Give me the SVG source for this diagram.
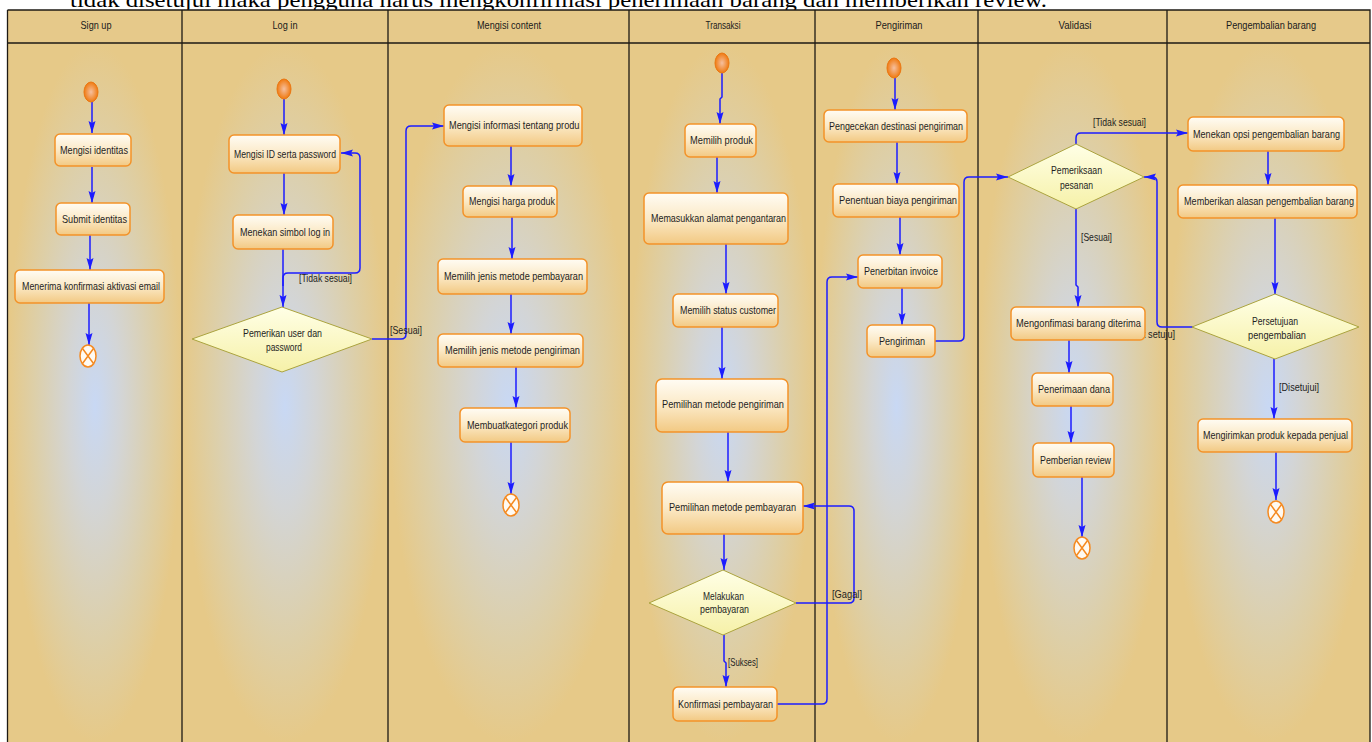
<svg xmlns="http://www.w3.org/2000/svg" width="1372" height="742" viewBox="0 0 1372 742">
<defs>
<radialGradient id="lane" cx="0.5" cy="0.5" r="0.5" fx="0.5" fy="0.52">
<stop offset="0" stop-color="#c8d8f4"/>
<stop offset="0.3" stop-color="#d3d5d6"/>
<stop offset="0.7" stop-color="#ddcfa8"/>
<stop offset="1" stop-color="#e6c988"/>
</radialGradient>
<linearGradient id="act" x1="0" y1="0" x2="0" y2="1">
<stop offset="0" stop-color="#fffcf4"/>
<stop offset="0.5" stop-color="#fbe9c6"/>
<stop offset="1" stop-color="#f2c983"/>
</linearGradient>
<linearGradient id="dec" x1="0" y1="0" x2="0" y2="1">
<stop offset="0" stop-color="#ffffe6"/>
<stop offset="1" stop-color="#f6f1a8"/>
</linearGradient>
<radialGradient id="start" cx="0.5" cy="0.5" r="0.5">
<stop offset="0" stop-color="#f5c0a0"/>
<stop offset="1" stop-color="#f07a10"/>
</radialGradient>
<marker id="arr" markerUnits="userSpaceOnUse" viewBox="0 0 12 8" refX="12" refY="4" markerWidth="12" markerHeight="8" orient="auto">
<path d="M0,0.5 L12,4 L0,7.5 L2,4 z" fill="#1c1cff"/>
</marker>
<clipPath id="clipInfo"><rect x="444" y="105" width="136" height="41"/></clipPath>
<style>
.lane{fill:url(#lane);}
.div{stroke:#1e1a14;stroke-width:1.3;fill:none;}
.hdr{font-family:"Liberation Sans",Arial,sans-serif;font-size:11px;fill:#1a1a1a;text-anchor:middle;}
.act{fill:url(#act);stroke:#f39228;stroke-width:1.5;}
.dec{fill:url(#dec);stroke:#aba33e;stroke-width:1;}
.t{font-family:"Liberation Sans",Arial,sans-serif;font-size:11px;fill:#1e1e1e;}
.lbl{font-family:"Liberation Sans",Arial,sans-serif;font-size:11px;fill:#1e1e1e;}
.st{fill:url(#start);stroke:#ea7612;stroke-width:1;}
.end{fill:#fffaf2;stroke:#f58a20;stroke-width:1.5;}
.x{stroke:#f58a20;stroke-width:1.5;}
.c{fill:none;stroke:#1c1cff;stroke-width:1.5;marker-end:url(#arr);}
.cn{fill:none;stroke:#1c1cff;stroke-width:1.5;}
</style>
</defs>
<rect x="0" y="0" width="1372" height="742" fill="#ffffff"/>
<text x="70" y="7" font-family="Liberation Serif,Times New Roman,serif" font-size="22" fill="#000" textLength="977" lengthAdjust="spacingAndGlyphs">tidak disetujui maka pengguna harus mengkonfirmasi penerimaan barang dan memberikan review.</text>
<g id="lanes">
<rect class="lane" x="8" y="43" width="174" height="699"/>
<rect class="lane" x="182" y="43" width="206" height="699"/>
<rect class="lane" x="388" y="43" width="241" height="699"/>
<rect class="lane" x="629" y="43" width="186" height="699"/>
<rect class="lane" x="815" y="43" width="163" height="699"/>
<rect class="lane" x="978" y="43" width="189" height="699"/>
<rect class="lane" x="1167" y="43" width="203" height="699"/>
<rect x="8" y="10" width="1362" height="33" fill="#e6c98a"/>
<path class="div" d="M7.5,10 H1370 V742 M7.5,10 V742 M8,43 H1370 M182,10 V742 M388,10 V742 M629,10 V742 M815,10 V742 M978,10 V742 M1167,10 V742"/>
<text class="hdr" x="96" y="29" textLength="31" lengthAdjust="spacingAndGlyphs">Sign up</text>
<text class="hdr" x="285" y="29" textLength="25" lengthAdjust="spacingAndGlyphs">Log in</text>
<text class="hdr" x="509" y="29" textLength="64" lengthAdjust="spacingAndGlyphs">Mengisi content</text>
<text class="hdr" x="723" y="29" textLength="35" lengthAdjust="spacingAndGlyphs">Transaksi</text>
<text class="hdr" x="899" y="29" textLength="47" lengthAdjust="spacingAndGlyphs">Pengiriman</text>
<text class="hdr" x="1075" y="29" textLength="33" lengthAdjust="spacingAndGlyphs">Validasi</text>
<text class="hdr" x="1271" y="29" textLength="90" lengthAdjust="spacingAndGlyphs">Pengembalian barang</text>
</g>
<g id="connectors">
<path class="c" d="M92,102 V133"/>
<path class="c" d="M92,167 V203"/>
<path class="c" d="M90,235 V270"/>
<path class="c" d="M89,303 V345"/>
<path class="c" d="M284,99 V135"/>
<path class="c" d="M284,173 V215"/>
<path class="c" d="M283,249 V307"/>
<path class="c" d="M283,286 V278 Q283,273 288,273 H355 Q360,273 360,268 V158 Q360,153 355,153 H341"/>
<path class="c" d="M372,339 H401 Q406,339 406,334 V131 Q406,126 411,126 H444"/>
<path class="c" d="M511,146 V186"/>
<path class="c" d="M512,217 V259"/>
<path class="c" d="M511,294 V334"/>
<path class="c" d="M516,367 V408"/>
<path class="c" d="M511,442 V494"/>
<path class="c" d="M722,73 V97 L720,99 V124"/>
<path class="c" d="M717,157 V193"/>
<path class="c" d="M726,244 V294"/>
<path class="c" d="M722,327 V379"/>
<path class="c" d="M728,432 V482"/>
<path class="c" d="M724,534 V570"/>
<path class="c" d="M724,635 V661 L726,663 V687"/>
<path class="c" d="M796,603 H849 Q854,603 854,598 V511 Q854,506 849,506 H803"/>
<path class="c" d="M777,704 H822 Q827,704 827,699 V282 Q827,277 832,277 H858"/>
<path class="c" d="M895,78 V110"/>
<path class="c" d="M897,142 V184"/>
<path class="c" d="M900,217 V255"/>
<path class="c" d="M902,288 V325"/>
<path class="c" d="M935,341 H959 Q964,341 964,336 V182 Q964,177 969,177 H1008"/>
<path class="c" d="M1076,144 V138 Q1076,133 1081,133 H1188"/>
<path class="c" d="M1076,209 V285 L1078,287 V307"/>
<path class="c" d="M1069,340 V373"/>
<path class="c" d="M1071,406 V443"/>
<path class="c" d="M1082,477 V537"/>
<path class="c" d="M1193,327 H1162 Q1157,327 1157,322 V182 Q1157,177 1152,177 H1144"/>
<path class="c" d="M1268,151 V185"/>
<path class="c" d="M1275,218 V294"/>
<path class="c" d="M1274,359 V419"/>
<path class="c" d="M1276,452 V500"/>
<text class="lbl" x="299" y="282" textLength="53" lengthAdjust="spacingAndGlyphs">[Tidak sesuai]</text>
<text class="lbl" x="390" y="334" textLength="32" lengthAdjust="spacingAndGlyphs">[Sesuai]</text>
<text class="lbl" x="832" y="598" textLength="30" lengthAdjust="spacingAndGlyphs">[Gagal]</text>
<text class="lbl" x="728" y="666" textLength="30" lengthAdjust="spacingAndGlyphs">[Sukses]</text>
<text class="lbl" x="1093" y="126" textLength="53" lengthAdjust="spacingAndGlyphs">[Tidak sesuai]</text>
<text class="lbl" x="1081" y="241" textLength="31" lengthAdjust="spacingAndGlyphs">[Sesuai]</text>
<text class="lbl" x="1121" y="338" textLength="54" lengthAdjust="spacingAndGlyphs">[Tidak setuju]</text>
<text class="lbl" x="1279" y="391" textLength="40" lengthAdjust="spacingAndGlyphs">[Disetujui]</text>
</g>
<g id="signup-start"><ellipse class="st" cx="91" cy="92" rx="7" ry="10"/></g>
<g id="mengisi-identitas"><rect class="act" x="55" y="134" width="76" height="32" rx="5"/><text class="t" x="60" y="154" textLength="68" lengthAdjust="spacingAndGlyphs">Mengisi identitas</text></g>
<g id="submit-identitas"><rect class="act" x="56" y="203" width="74" height="32" rx="5"/><text class="t" x="62" y="223" textLength="65" lengthAdjust="spacingAndGlyphs">Submit identitas</text></g>
<g id="menerima-konfirmasi"><rect class="act" x="15" y="270" width="149" height="33" rx="5"/><text class="t" x="22" y="290" textLength="138" lengthAdjust="spacingAndGlyphs">Menerima konfirmasi aktivasi email</text></g>
<g id="signup-end"><ellipse class="end" cx="88" cy="356" rx="8" ry="11"/><path class="x" d="M82.5,348.5 L93.5,363.5 M93.5,348.5 L82.5,363.5"/></g>
<g id="login-start"><ellipse class="st" cx="284" cy="89" rx="7" ry="10"/></g>
<g id="mengisi-id"><rect class="act" x="229" y="135" width="111" height="38" rx="5"/><text class="t" x="234" y="158" textLength="102" lengthAdjust="spacingAndGlyphs">Mengisi ID serta password</text></g>
<g id="menekan-login"><rect class="act" x="233" y="215" width="100" height="34" rx="5"/><text class="t" x="240" y="236" textLength="90" lengthAdjust="spacingAndGlyphs">Menekan simbol log in</text></g>
<g id="pemerikan-user"><polygon class="dec" points="192,339 282,307 372,339 282,372"/><text class="t" x="243" y="337" textLength="79" lengthAdjust="spacingAndGlyphs">Pemerikan user dan</text><text class="t" x="266" y="351" textLength="36" lengthAdjust="spacingAndGlyphs">password</text></g>
<g id="mengisi-informasi"><rect class="act" x="444" y="105" width="138" height="41" rx="5"/><text class="t" x="449" y="129" textLength="135" lengthAdjust="spacingAndGlyphs" clip-path="url(#clipInfo)">Mengisi informasi tentang produk</text></g>
<g id="mengisi-harga"><rect class="act" x="463" y="186" width="94" height="31" rx="5"/><text class="t" x="469" y="205" textLength="86" lengthAdjust="spacingAndGlyphs">Mengisi harga produk</text></g>
<g id="memilih-pembayaran"><rect class="act" x="438" y="259" width="149" height="35" rx="5"/><text class="t" x="444" y="280" textLength="139" lengthAdjust="spacingAndGlyphs">Memilih jenis metode pembayaran</text></g>
<g id="memilih-pengiriman"><rect class="act" x="438" y="334" width="145" height="33" rx="5"/><text class="t" x="445" y="354" textLength="135" lengthAdjust="spacingAndGlyphs">Memilih jenis metode pengiriman</text></g>
<g id="membuat-kategori"><rect class="act" x="460" y="408" width="110" height="34" rx="5"/><text class="t" x="467" y="429" textLength="101" lengthAdjust="spacingAndGlyphs">Membuatkategori produk</text></g>
<g id="content-end"><ellipse class="end" cx="511" cy="505" rx="8" ry="11"/><path class="x" d="M505.5,497.5 L516.5,512.5 M516.5,497.5 L505.5,512.5"/></g>
<g id="transaksi-start"><ellipse class="st" cx="722" cy="63" rx="7" ry="10"/></g>
<g id="memilih-produk"><rect class="act" x="685" y="124" width="71" height="33" rx="5"/><text class="t" x="690" y="144" textLength="63" lengthAdjust="spacingAndGlyphs">Memilih produk</text></g>
<g id="memasukkan-alamat"><rect class="act" x="644" y="193" width="144" height="51" rx="5"/><text class="t" x="651" y="222" textLength="135" lengthAdjust="spacingAndGlyphs">Memasukkan alamat pengantaran</text></g>
<g id="memilih-status"><rect class="act" x="673" y="294" width="105" height="33" rx="5"/><text class="t" x="680" y="314" textLength="96" lengthAdjust="spacingAndGlyphs">Memilih status customer</text></g>
<g id="pemilihan-pengiriman"><rect class="act" x="656" y="379" width="132" height="53" rx="6"/><text class="t" x="662" y="408" textLength="122" lengthAdjust="spacingAndGlyphs">Pemilihan metode pengiriman</text></g>
<g id="pemilihan-pembayaran"><rect class="act" x="662" y="482" width="141" height="52" rx="6"/><text class="t" x="669" y="511" textLength="127" lengthAdjust="spacingAndGlyphs">Pemilihan metode pembayaran</text></g>
<g id="melakukan-pembayaran"><polygon class="dec" points="649,603 723,570 796,603 723,635"/><text class="t" x="703" y="600" textLength="41" lengthAdjust="spacingAndGlyphs">Melakukan</text><text class="t" x="700" y="613" textLength="49" lengthAdjust="spacingAndGlyphs">pembayaran</text></g>
<g id="konfirmasi-pembayaran"><rect class="act" x="673" y="687" width="104" height="34" rx="5"/><text class="t" x="678" y="708" textLength="95" lengthAdjust="spacingAndGlyphs">Konfirmasi pembayaran</text></g>
<g id="pengiriman-start"><ellipse class="st" cx="894" cy="68" rx="7" ry="10"/></g>
<g id="pengecekan-destinasi"><rect class="act" x="824" y="110" width="143" height="32" rx="5"/><text class="t" x="829" y="130" textLength="134" lengthAdjust="spacingAndGlyphs">Pengecekan destinasi pengiriman</text></g>
<g id="penentuan-biaya"><rect class="act" x="833" y="184" width="126" height="33" rx="5"/><text class="t" x="839" y="204" textLength="118" lengthAdjust="spacingAndGlyphs">Penentuan biaya pengiriman</text></g>
<g id="penerbitan-invoice"><rect class="act" x="858" y="255" width="84" height="33" rx="5"/><text class="t" x="864" y="275" textLength="74" lengthAdjust="spacingAndGlyphs">Penerbitan invoice</text></g>
<g id="pengiriman"><rect class="act" x="867" y="325" width="68" height="32" rx="5"/><text class="t" x="879" y="345" textLength="46" lengthAdjust="spacingAndGlyphs">Pengiriman</text></g>
<g id="pemeriksaan-pesanan"><polygon class="dec" points="1008,177 1076,144 1144,177 1076,209"/><text class="t" x="1051" y="174" textLength="51" lengthAdjust="spacingAndGlyphs">Pemeriksaan</text><text class="t" x="1060" y="189" textLength="33" lengthAdjust="spacingAndGlyphs">pesanan</text></g>
<g id="mengonfirmasi-barang"><rect class="act" x="1011" y="307" width="134" height="33" rx="5"/><text class="t" x="1016" y="327" textLength="125" lengthAdjust="spacingAndGlyphs">Mengonfimasi barang diterima</text></g>
<g id="penerimaan-dana"><rect class="act" x="1032" y="373" width="81" height="33" rx="5"/><text class="t" x="1038" y="393" textLength="72" lengthAdjust="spacingAndGlyphs">Penerimaan dana</text></g>
<g id="pemberian-review"><rect class="act" x="1033" y="443" width="81" height="34" rx="5"/><text class="t" x="1040" y="464" textLength="71" lengthAdjust="spacingAndGlyphs">Pemberian review</text></g>
<g id="validasi-end"><ellipse class="end" cx="1082" cy="548" rx="8" ry="11"/><path class="x" d="M1076.5,540.5 L1087.5,555.5 M1087.5,540.5 L1076.5,555.5"/></g>
<g id="menekan-opsi"><rect class="act" x="1188" y="117" width="156" height="34" rx="5"/><text class="t" x="1193" y="138" textLength="147" lengthAdjust="spacingAndGlyphs">Menekan opsi pengembalian barang</text></g>
<g id="memberikan-alasan"><rect class="act" x="1178" y="185" width="179" height="33" rx="5"/><text class="t" x="1184" y="205" textLength="170" lengthAdjust="spacingAndGlyphs">Memberikan alasan pengembalian barang</text></g>
<g id="persetujuan-pengembalian"><polygon class="dec" points="1192,327 1275,294 1359,327 1275,359"/><text class="t" x="1252" y="325" textLength="46" lengthAdjust="spacingAndGlyphs">Persetujuan</text><text class="t" x="1248" y="339" textLength="58" lengthAdjust="spacingAndGlyphs">pengembalian</text></g>
<g id="mengirimkan-produk"><rect class="act" x="1198" y="419" width="154" height="33" rx="5"/><text class="t" x="1203" y="439" textLength="145" lengthAdjust="spacingAndGlyphs">Mengirimkan produk kepada penjual</text></g>
<g id="pengembalian-end"><ellipse class="end" cx="1276" cy="512" rx="8" ry="11"/><path class="x" d="M1270.5,504.5 L1281.5,519.5 M1281.5,504.5 L1270.5,519.5"/></g>
</svg>
